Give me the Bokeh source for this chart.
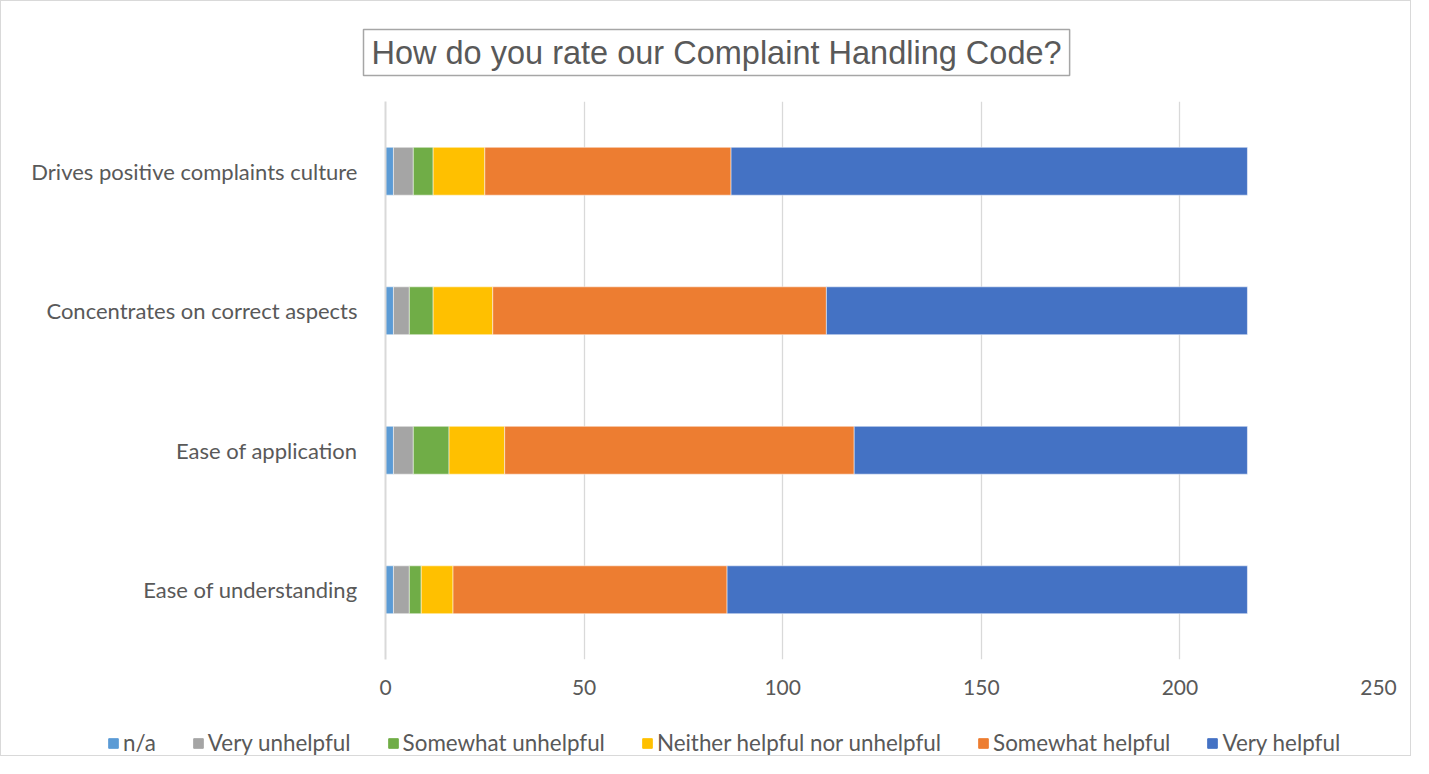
from bokeh.plotting import figure
from bokeh.models import Legend, LegendItem, FixedTicker, Range1d, FactorRange
from bokeh.embed import file_html
from bokeh.resources import INLINE

categories = ["Ease of understanding", "Ease of application",
              "Concentrates on correct aspects", "Drives positive complaints culture"]
series = ["n/a", "Very unhelpful", "Somewhat unhelpful",
          "Neither helpful nor unhelpful", "Somewhat helpful", "Very helpful"]
colors = ["#5B9BD5", "#A5A5A5", "#70AD47", "#FFC000", "#ED7D31", "#4472C4"]

na = [2, 2, 2, 2]
very_unhelpful = [4, 5, 4, 5]
somewhat_unhelpful = [3, 9, 6, 5]
neither = [8, 14, 15, 13]
somewhat_helpful = [69, 88, 84, 62]
very_helpful = [131, 99, 106, 130]
x_ticks = [0, 50, 100, 150, 200, 250]

data = {"cat": categories, "n/a": na, "Very unhelpful": very_unhelpful,
        "Somewhat unhelpful": somewhat_unhelpful,
        "Neither helpful nor unhelpful": neither,
        "Somewhat helpful": somewhat_helpful, "Very helpful": very_helpful}

W = 1411
p = figure(width=W, height=697, y_range=FactorRange(*categories, range_padding=0),
           x_range=Range1d(0, 250), output_backend="svg", toolbar_location=None,
           min_border_left=384, min_border_right=W - 1377, min_border_top=97, min_border_bottom=39,
           title="How do you rate our Complaint Handling Code?")
p.styles = {"border": "1px solid #d9d9d9", "border-bottom": "none"}

renderers = p.hbar_stack(series, y="cat", height=0.343, color=colors, source=data,
                         line_color="white", line_width=0.5)

p.title.align = "left"
p.title.offset = -22
p.title.standoff = 52
p.title.text_font = "Liberation Sans"
p.title.text_font_size = "32.5px"
p.title.text_font_style = "normal"
p.title.text_color = "#595959"
p.title.border_line_color = "#a6a6a6"
p.title.border_line_width = 1.5
p.title.background_fill_color = "white"
p.title.padding = (8, 5)

p.outline_line_color = None
p.ygrid.grid_line_color = None
p.xgrid.grid_line_color = "#d9d9d9"
p.xgrid.grid_line_width = 1.3
p.xaxis.ticker = FixedTicker(ticks=x_ticks)
p.xaxis.axis_line_color = None
p.xaxis.major_tick_line_color = None
p.xaxis.minor_tick_line_color = None
p.xaxis.major_label_text_font = "Lato"
p.xaxis.major_label_text_font_size = "21px"
p.xaxis.major_label_text_color = "#595959"
p.xaxis.major_label_standoff = 14
p.yaxis.axis_line_color = "#d9d9d9"
p.yaxis.axis_line_width = 2
p.yaxis.major_tick_line_color = None
p.yaxis.minor_tick_line_color = None
p.yaxis.major_label_text_font = "Lato"
p.yaxis.major_label_text_font_size = "22px"
p.yaxis.major_label_text_color = "#595959"
p.yaxis.major_label_standoff = 22

# legend strip below the chart (separate root so its frame is not aligned to the chart's);
# the same stacked bars are drawn there outside its visible x range, only to feed the legend
lg = figure(width=W, height=59, x_range=Range1d(-20, -10), y_range=FactorRange(*categories),
            output_backend="svg", toolbar_location=None,
            min_border_left=0, min_border_right=0, min_border_top=0, min_border_bottom=0)
lg.styles = {"border": "1px solid #d9d9d9", "border-top": "none"}
lg.axis.visible = False
lg.grid.visible = False
lg.outline_line_color = None
proxies = lg.hbar_stack(series, y="cat", height=0.343, color=colors, source=data)
legend = Legend(items=[LegendItem(label=s, renderers=[r]) for s, r in zip(series, proxies)],
                orientation="horizontal", location=(106, 0),
                label_text_font="Lato", label_text_font_size="22.4px",
                label_text_color="#595959", glyph_width=12, glyph_height=12,
                label_standoff=4, spacing=36, border_line_color=None,
                background_fill_alpha=0, margin=0, padding=4)
lg.add_layout(legend, "center")

open("out.html", "w").write(file_html((p, lg), INLINE))
